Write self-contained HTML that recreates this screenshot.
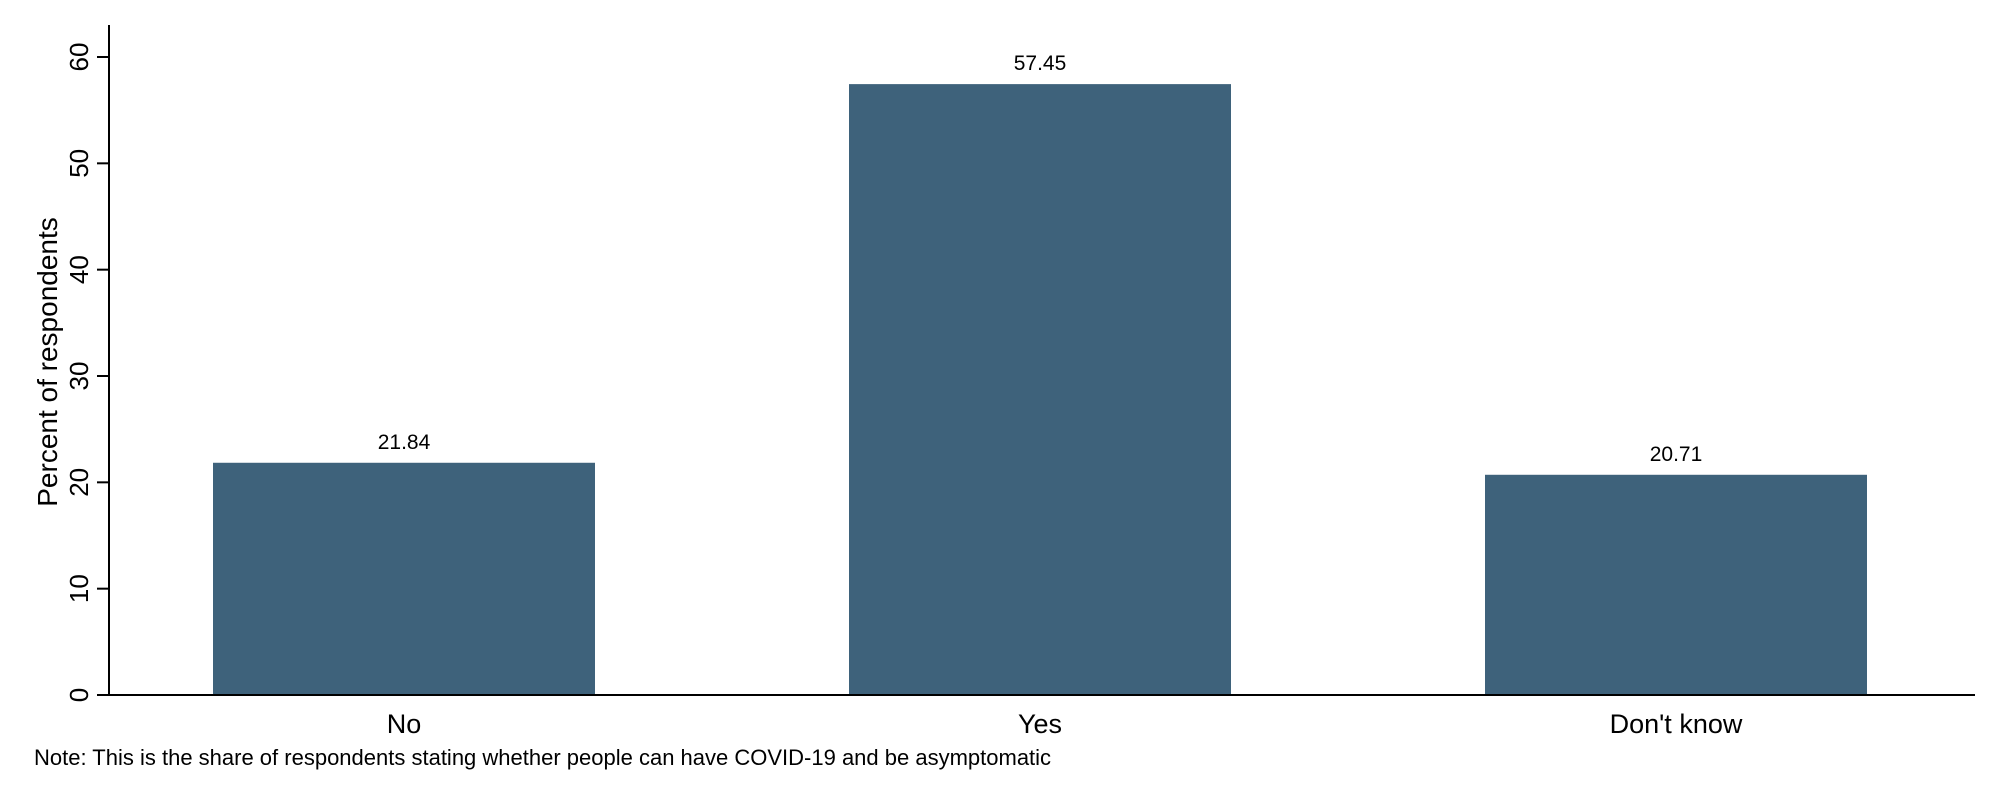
<!DOCTYPE html>
<html><head><meta charset="utf-8"><style>
body{margin:0;background:#fff;}
svg{display:block;font-family:"Liberation Sans",Arial,sans-serif;}
</style></head><body>
<svg id="chart" width="2000" height="800" viewBox="0 0 2000 800">
<rect width="2000" height="800" fill="#fff"/>
<g id="plot"></g>
<text transform="translate(57,362) rotate(-90)" text-anchor="middle" font-size="28" fill="#000">Percent of respondents</text>
<text x="34" y="765" font-size="22" fill="#000">Note: This is the share of respondents stating whether people can have COVID-19 and be asymptomatic</text>
</svg>
<script>
const categories=["No","Yes","Don't know"];
const values=[21.84,57.45,20.71];
const labels=["21.84","57.45","20.71"];
const yTicks=[0,10,20,30,40,50,60];
const ns="http://www.w3.org/2000/svg";
const g=document.getElementById('plot');
const x0=109,x1=1975,yBase=695,yTop=57;
const y=v=>yBase-(v/60)*(yBase-yTop);
const centers=[404,1040,1676];
const bw=382;
const xc=i=>centers[0]+i*(centers[1]-centers[0]);
function mk(t,a){const e=document.createElementNS(ns,t);for(const k in a)e.setAttribute(k,a[k]);g.appendChild(e);return e;}
values.forEach((v,i)=>{
 const r=mk('rect',{x:xc(i)-bw/2,y:y(v),width:bw,height:yBase-y(v),fill:'#3e627b'});
 
 
 const t=mk('text',{x:xc(i),y:y(v)-14,'text-anchor':'middle','font-size':21,fill:'#000'});
 t.textContent=labels[i];
 
 
 const c=mk('text',{x:xc(i),y:733,'text-anchor':'middle','font-size':27,fill:'#000'});
 c.textContent=categories[i];
 
 
});
const ya=mk('line',{x1:x0,y1:25,x2:x0,y2:yBase,stroke:'#000','stroke-width':2});


const xa=mk('line',{x1:x0-12,y1:yBase,x2:x1,y2:yBase,stroke:'#000','stroke-width':2});


yTicks.forEach(v=>{
 const l=mk('line',{x1:x0-12,y1:y(v),x2:x0,y2:y(v),stroke:'#000','stroke-width':2});
 
 
 const t=mk('text',{transform:`translate(88,${y(v)}) rotate(-90)`,'text-anchor':'middle','font-size':26,fill:'#000'});
 t.textContent=v;
 
 
});
</script>
</body></html>
